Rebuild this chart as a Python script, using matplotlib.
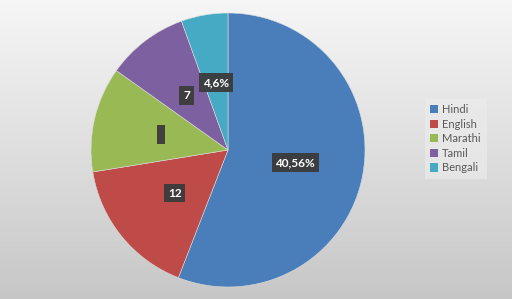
import matplotlib
matplotlib.use("Agg")
import matplotlib.pyplot as plt
import numpy as np
from matplotlib.patches import Patch

# data
languages = ["Hindi", "English", "Marathi", "Tamil", "Bengali"]
shares = [40.56, 12, 9, 7, 4]
label_texts = ["40,56%", "12", "\u200a", "7", "4,6%"]
colors = ["#4a7ebb", "#be4b48", "#98b954", "#7d60a0", "#46aac5"]

W, H = 512, 299
fig = plt.figure(figsize=(W / 100, H / 100), dpi=100)

# background gradient, light at top to grey at bottom
bg = fig.add_axes([0, 0, 1, 1], zorder=-1)
grad = np.linspace(0, 1, 256).reshape(-1, 1)
top = np.array([0.965, 0.965, 0.965])
bottom = np.array([0.78, 0.78, 0.78])
img = top + (bottom - top) * grad[..., None]
bg.imshow(img, aspect="auto", extent=[0, 1, 0, 1], origin="upper")
bg.set_axis_off()

cx, cy, r = 228, 150, 137
ax = fig.add_axes([(cx - r) / W, (H - cy - r) / H, 2 * r / W, 2 * r / H])
wedges, texts = ax.pie(
    shares,
    labels=label_texts,
    colors=colors,
    startangle=90,
    counterclock=False,
    labeldistance=0.5,
    wedgeprops=dict(linewidth=0.4, edgecolor="#dddddd"),
    textprops=dict(color="white", fontsize=8.5, fontweight="bold",
                   family=["Lato", "DejaVu Sans"], ha="center", va="center"),
)
for t in texts:
    t.set_horizontalalignment("center")
    t.set_bbox(dict(boxstyle="square,pad=0.32", facecolor="#3b3b3b",
                    edgecolor="none", alpha=0.95))
ax.set_xlim(-1, 1)
ax.set_ylim(-1, 1)
ax.set_aspect("equal")

handles = [Patch(facecolor=c, edgecolor="none") for c in colors]
leg = fig.legend(
    handles, languages,
    loc="upper left",
    bbox_to_anchor=(419 / W, 1 - 93 / H),
    frameon=True,
    fancybox=False,
    handlelength=0.75,
    handleheight=0.75,
    handletextpad=0.35,
    labelspacing=0.32,
    borderpad=0.5,
    prop=dict(family="Lato", size=8),
)
leg.get_frame().set_facecolor("#ebebeb")
leg.get_frame().set_edgecolor("none")
leg.get_frame().set_alpha(0.7)
for t in leg.get_texts():
    t.set_color("#595959")

fig.savefig("out.png", dpi=100)
